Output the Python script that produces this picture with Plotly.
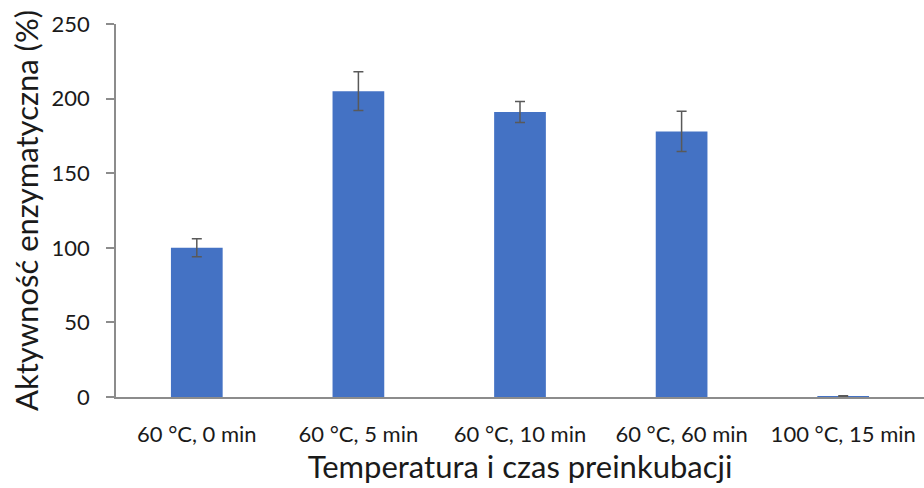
import plotly.graph_objects as go

# Preincubation conditions and relative enzyme activity (mean ± SD)
categories = ["60 °C, 0 min", "60 °C, 5 min", "60 °C, 10 min", "60 °C, 60 min", "100 °C, 15 min"]
activity = [100, 205, 191, 178, 0.6]
activity_sd = [6, 13, 7, 13.5, 0.3]
y_ticks = [0, 50, 100, 150, 200, 250]

FONT = "Lato"
AXIS_GREY = "#8c8c8c"
TEXT = "#1a1a1a"

fig = go.Figure(
    go.Bar(
        x=categories,
        y=activity,
        marker=dict(color="#4472C4", line=dict(width=0)),
        error_y=dict(type="data", array=activity_sd, visible=True,
                     color="#595959", thickness=1.5, width=5),
        width=0.32,
    )
)

fig.update_layout(
    width=924, height=488,
    margin=dict(l=116, r=0, t=24, b=91),
    paper_bgcolor="white", plot_bgcolor="white",
    showlegend=False,
    font=dict(family=FONT, color=TEXT),
    xaxis=dict(
        showline=True, linecolor=AXIS_GREY, linewidth=1.5,
        ticks="", ticklabelstandoff=17,
        tickfont=dict(size=22, family=FONT, color=TEXT),
        showgrid=False, zeroline=False,
        title=dict(text="Temperatura i czas preinkubacji", standoff=6,
                   font=dict(size=31, family=FONT, color=TEXT)),
    ),
    yaxis=dict(
        range=[0, 250], tickvals=y_ticks,
        showline=True, linecolor=AXIS_GREY, linewidth=1.5,
        ticks="outside", ticklen=8, tickcolor=AXIS_GREY, tickwidth=1.5,
        ticklabelstandoff=12,
        tickfont=dict(size=22, family=FONT, color=TEXT),
        showgrid=False, zeroline=False,
        title=dict(text="Aktywność enzymatyczna (%)", standoff=4,
                   font=dict(size=31, family=FONT, color=TEXT)),
    ),
)

fig.write_html("out.html")
